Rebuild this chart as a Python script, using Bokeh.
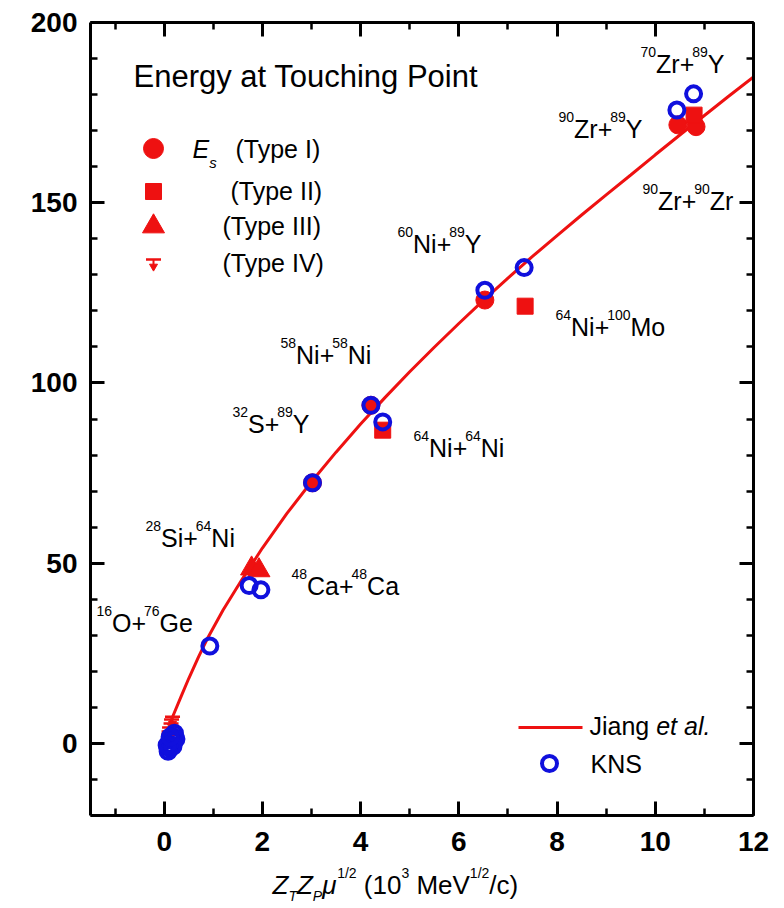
from bokeh.plotting import figure
from bokeh.models import Range1d, LinearAxis, SingleIntervalTicker, Label, CustomJSTickFormatter
from bokeh.layouts import column
from bokeh.embed import file_html
from bokeh.resources import INLINE

# ---------------- data ----------------
# Jiang et al. curve
jiang_x = [0.1, 0.2, 0.35, 0.5, 0.7, 0.9, 1.2, 1.6, 2.0, 2.5, 3.0, 3.5, 4.0, 4.5, 5.0,
           5.5, 6.0, 6.5, 7.0, 7.5, 8.0, 8.5, 9.0, 9.5, 10.0, 10.5, 11.0, 11.5, 12.0]
jiang_y = [5.0, 8.3, 13.2, 18.0, 24.0, 29.6, 37.0, 45.8, 54.2, 63.8, 72.6, 80.8, 88.6,
           96.0, 103.1, 109.9, 116.5, 122.9, 129.1, 135.1, 140.9, 146.6, 152.2, 157.7,
           163.3, 168.8, 174.2, 179.6, 184.9]

# KNS (open blue circles)
kns_x = [0.21, 0.19, 0.16, 0.13, 0.10, 0.08, 0.24, 0.18, 0.06, 0.12, 0.93, 1.73, 1.97,
         3.02, 4.21, 4.45, 6.53, 7.33, 10.44, 10.78]
kns_y = [2.8, 1.8, 0.8, -0.3, -1.2, -2.2, 1.2, -0.8, -0.5, 1.8, 27.0, 43.8, 42.6,
         72.3, 93.8, 89.2, 125.7, 132.0, 175.7, 180.2]

# E_s, Type I (red circles)
t1_x = [3.02, 4.21, 6.53, 10.46, 10.83]
t1_y = [72.3, 93.8, 123.0, 171.6, 171.1]

# Type II (red squares)
t2_x = [4.45, 7.35, 10.79]
t2_y = [86.9, 121.3, 174.3]

# Type III (red triangles)
t3_x = [1.78, 1.93]
t3_y = [48.5, 48.0]

# Type IV (upper limits)
t4_x = [0.17, 0.15, 0.14, 0.11, 0.10, 0.09]
t4_y = [7.4, 6.6, 5.5, 4.4, 3.3, 2.4]

# reaction labels
reactions = [
    [("70", "sup"), ("Zr+", "n"), ("89", "sup"), ("Y", "n")],
    [("90", "sup"), ("Zr+", "n"), ("89", "sup"), ("Y", "n")],
    [("90", "sup"), ("Zr+", "n"), ("90", "sup"), ("Zr", "n")],
    [("60", "sup"), ("Ni+", "n"), ("89", "sup"), ("Y", "n")],
    [("64", "sup"), ("Ni+", "n"), ("100", "sup"), ("Mo", "n")],
    [("58", "sup"), ("Ni+", "n"), ("58", "sup"), ("Ni", "n")],
    [("32", "sup"), ("S+", "n"), ("89", "sup"), ("Y", "n")],
    [("64", "sup"), ("Ni+", "n"), ("64", "sup"), ("Ni", "n")],
    [("28", "sup"), ("Si+", "n"), ("64", "sup"), ("Ni", "n")],
    [("48", "sup"), ("Ca+", "n"), ("48", "sup"), ("Ca", "n")],
    [("16", "sup"), ("O+", "n"), ("76", "sup"), ("Ge", "n")],
]

# ---------------- layout (pixels) ----------------
W, H = 784, 908
H1 = 866                      # main figure height
H2 = H - H1                   # strip holding the x axis title
LEFT, RIGHT_B, TOP, BOTTOM_B = 90, 31, 22, 51
FW, FH = W - LEFT - RIGHT_B, H1 - TOP - BOTTOM_B
X0, X1, Y0, Y1 = -1.5, 12.0, -20.0, 200.0

# left x / cap-centre y of each reaction label
reaction_pos = [(640, 63), (558, 128), (642, 200), (397, 243), (555, 326),
                (280, 354), (232, 423), (413, 447), (145, 537), (291, 585), (96, 622)]

FONT = "Liberation Sans"
RED = "#ee1111"
BLUE = "#1010dd"


def dx(px):
    return X0 + (px - LEFT) / FW * (X1 - X0)


def dy(py):
    return Y1 - (py - TOP) / FH * (Y1 - Y0)


PER_PX_Y = (Y1 - Y0) / FH

AW = {' ': 278, '(': 333, ')': 333, '+': 500, '/': 278, '.': 278, '-': 333,
      'A': 667, 'B': 667, 'C': 722, 'D': 722, 'E': 667, 'F': 611, 'G': 778, 'H': 722,
      'I': 278, 'J': 500, 'K': 667, 'L': 556, 'M': 833, 'N': 722, 'O': 778, 'P': 667,
      'Q': 778, 'R': 722, 'S': 667, 'T': 611, 'U': 722, 'V': 667, 'W': 944, 'X': 667,
      'Y': 667, 'Z': 611, 'a': 556, 'b': 556, 'c': 500, 'd': 556, 'e': 556, 'f': 278,
      'g': 556, 'h': 556, 'i': 222, 'j': 222, 'k': 500, 'l': 222, 'm': 833, 'n': 556,
      'o': 556, 'p': 556, 'q': 556, 'r': 333, 's': 500, 't': 278, 'u': 556, 'v': 500,
      'w': 722, 'x': 500, 'y': 500, 'z': 500, 'μ': 576}


def tw(s):
    return sum(AW.get(c, 556) for c in s) / 1000.0


p = figure(width=W, height=H1, x_range=Range1d(X0, X1), y_range=Range1d(Y0, Y1),
           output_backend="svg", toolbar_location=None,
           x_axis_type=None, y_axis_type=None,
           min_border_left=LEFT, min_border_right=RIGHT_B,
           min_border_top=TOP, min_border_bottom=BOTTOM_B)
p.outline_line_color = None
p.background_fill_color = "white"
p.border_fill_color = "white"


def make_axis(interval, minor, show_labels, standoff):
    ax = LinearAxis(ticker=SingleIntervalTicker(interval=interval, num_minor_ticks=minor))
    ax.axis_line_width = 3
    ax.axis_line_color = "black"
    ax.major_tick_line_width = 3
    ax.minor_tick_line_width = 2.5
    ax.major_tick_in = 14
    ax.major_tick_out = 0
    ax.minor_tick_in = 7
    ax.minor_tick_out = 0
    ax.major_label_text_font = FONT
    ax.major_label_text_font_style = "bold"
    ax.major_label_text_color = "black"
    ax.major_label_standoff = standoff
    if show_labels:
        ax.major_label_text_font_size = "28px"
    else:
        ax.formatter = CustomJSTickFormatter(code="return ''")
        ax.major_label_text_font_size = "1px"
        ax.major_label_standoff = 0
    return ax


p.add_layout(make_axis(2, 2, True, 16), "below")
p.add_layout(make_axis(2, 2, False, 0), "above")
p.add_layout(make_axis(50, 5, True, 13), "left")
p.add_layout(make_axis(50, 5, False, 0), "right")


def rich(fig, xf, yf, left_px, cy_px, segs, size=25, small=14, sup_up=11.5, sub_down=14):
    cur = left_px
    for txt, st in segs:
        fs = small if st in ("sup", "sub", "isub") else size
        if st == "sup":
            ypx = cy_px - sup_up
        elif st in ("sub", "isub"):
            ypx = cy_px + sub_down
        else:
            ypx = cy_px
        italic = st in ("i", "isub")
        lead = len(txt) - len(txt.lstrip(" "))
        cur += tw(" " * lead) * fs
        body = txt.strip(" ")
        fig.add_layout(Label(x=xf(cur), y=yf(ypx), text=body, text_font=FONT,
                             text_font_size=f"{fs}px",
                             text_font_style="italic" if italic else "normal",
                             text_baseline="middle", text_align="left",
                             text_color="black"))
        cur += tw(txt.lstrip(" ")) * fs


# curve
p.line(jiang_x, jiang_y, line_color=RED, line_width=3)


def upper_limits(xs, ys, bar=15):
    p.segment(x0=xs, y0=ys, x1=xs, y1=[y - 9 * PER_PX_Y for y in ys],
              line_color=RED, line_width=2)
    p.scatter(xs, [y - 7 * PER_PX_Y for y in ys], marker="inverted_triangle", size=8,
              fill_color=RED, line_color=RED)
    p.scatter(xs, ys, marker="dash", size=bar, line_color=RED, line_width=2.5)


upper_limits(t4_x, t4_y)

p.scatter(t1_x, t1_y, marker="circle", size=18, fill_color=RED, line_color=RED)
p.scatter(t2_x, t2_y, marker="square", size=16, fill_color=RED, line_color=RED)
p.scatter(t3_x, t3_y, marker="triangle", size=22, fill_color=RED, line_color=RED)
p.scatter(kns_x, kns_y, marker="circle", size=15, fill_color=None, line_color=BLUE,
          line_width=4)

# reaction labels
for segs, (lx, cy) in zip(reactions, reaction_pos):
    rich(p, dx, dy, lx, cy, segs)

# title
rich(p, dx, dy, 133, 76, [("Energy at Touching Point", "n")], size=31)

# legend (top-left)
LEG_X = 153
p.scatter([dx(LEG_X)], [dy(148)], marker="circle", size=20, fill_color=RED, line_color=RED)
p.scatter([dx(LEG_X)], [dy(191)], marker="square", size=16, fill_color=RED, line_color=RED)
p.scatter([dx(LEG_X)], [dy(226)], marker="triangle", size=22, fill_color=RED, line_color=RED)
upper_limits([dx(LEG_X)], [dy(259)])
rich(p, dx, dy, 192, 148, [("E", "i"), ("s", "isub")], small=15)
rich(p, dx, dy, 235, 148, [("(Type I)", "n")])
rich(p, dx, dy, 230, 190, [("(Type II)", "n")])
rich(p, dx, dy, 222, 225, [("(Type III)", "n")])
rich(p, dx, dy, 222, 262, [("(Type IV)", "n")])

# legend (bottom-right)
p.line([dx(518), dx(582)], [dy(727), dy(727)], line_color=RED, line_width=3)
p.scatter([dx(549)], [dy(763)], marker="circle", size=15, fill_color=None,
          line_color=BLUE, line_width=4)
rich(p, dx, dy, 589, 725, [("Jiang ", "n"), ("et al.", "i")])
rich(p, dx, dy, 590, 763, [("KNS", "n")])

# x axis title in a strip under the plot; its frame is aligned with the main frame,
# so it shares the x mapping, and y is in pixels (downwards)
q = figure(width=W, height=H2, x_range=Range1d(X0, X1), y_range=Range1d(H2, 0),
           output_backend="svg", toolbar_location=None,
           x_axis_type=None, y_axis_type=None,
           min_border_left=LEFT, min_border_right=RIGHT_B, min_border_top=0,
           min_border_bottom=0)
q.outline_line_color = None
q.background_fill_color = "white"
q.border_fill_color = "white"
rich(q, dx, lambda v: v - H1, 272, 884,
     [("Z", "i"), ("T", "isub"), ("Z", "i"), ("P", "isub"), ("μ", "i"),
      ("1/2", "sup"), (" (10", "n"), ("3", "sup"), (" MeV", "n"),
      ("1/2", "sup"), ("/c)", "n")],
     size=26, small=14, sup_up=12, sub_down=11)

layout = column(p, q, spacing=0)
open("out.html", "w").write(file_html(layout, INLINE))
